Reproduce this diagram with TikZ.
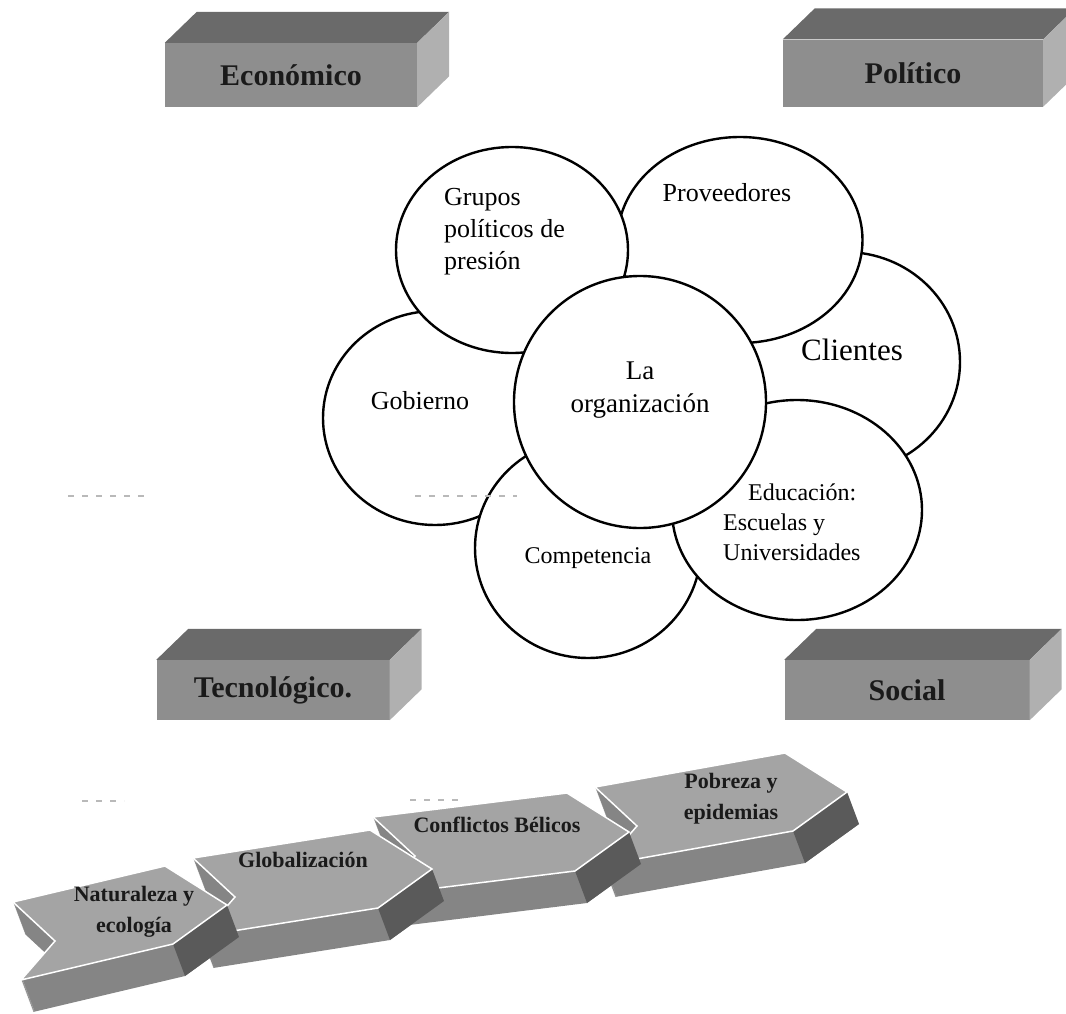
\documentclass[tikz,border=0pt]{standalone}
\usepackage{fontspec}
\setmainfont{Liberation Serif}
\usetikzlibrary{shapes.geometric,calc}
\definecolor{slabfront}{HTML}{8E8E8E}
\definecolor{slabtop}{HTML}{6A6A6A}
\definecolor{slabside}{HTML}{B0B0B0}
\definecolor{chevtop}{HTML}{A4A4A4}
\definecolor{chevband}{HTML}{858585}
\definecolor{chevdark}{HTML}{5A5A5A}
\definecolor{inkk}{HTML}{1A1A1A}
\tikzset{
  slab/.style={fill=slabfront, text=inkk, inner sep=0pt,
               font=\fontsize{30}{34}\selectfont\bfseries},
  slabtopf/.style={fill=slabtop},
  slabsidef/.style={fill=slabside},
  bubble/.style={ellipse, draw=black, line width=2.4pt, fill=white, inner sep=0pt},
  blbl/.style={text=black, inner sep=0pt, align=center},
  clbl/.style={text=inkk, inner sep=0pt, align=center,
               font=\fontsize{22}{31}\selectfont\bfseries},
  chevpath/.style={insert path={(0,0) -- (1,0) -- ([xshift=58pt]1,0.5) -- (1,1)
                   -- (0,1) -- ([xshift=38pt]0,0.5) -- cycle}},
  ghost/.style={gray!55, line width=1.2pt, dash pattern=on 6pt off 8pt}
}
\begin{document}
\begin{tikzpicture}[x=1pt, y=-1pt]
  \useasboundingbox (0,0) rectangle (1066,1013);

  % chevrons, back to front
  \foreach \ox/\oy/\ux/\uy in {595/787/190/34, 373/817/194/24, 193/858/177/28, 13/902/152/36}{
    \begin{scope}[shift={(\ox,\oy)}, x={(\ux pt,\uy pt)}, y={(8pt,-78pt)}]
      \foreach \k in {1,...,32}
        \fill[chevband, xshift=\k*0.375pt, yshift=-\k*1pt, chevpath];
      \fill[chevdark] ([xshift=58pt]1,0.5) -- (1,1) -- ([xshift=12pt,yshift=-32pt]1,1)
        -- ([xshift=70pt,yshift=-32pt]1,0.5) -- cycle;
      \fill[chevtop, draw=white, line width=1.5pt, chevpath];
    \end{scope}
  }
  \node[clbl] (natu) at (134,912) {Naturaleza y\\ecología};
  \node[clbl] (glob) at (303,860) {Globalización};
  \node[clbl] (conf) at (497,825) {Conflictos Bélicos};
  \node[clbl] (pobr) at (731,799) {Pobreza y\\epidemias};

  % environment slabs
  \node[slab, minimum width=252pt, minimum height=64pt] (econ) at (291,75) {Económico};
  \node[slab, minimum width=260pt, minimum height=67pt] (poli) at (913,73) {Político};
  \node[slab, minimum width=233pt, minimum height=60pt] (tecn) at (273,690) {Tecnológico.};
  \node[slab, minimum width=245pt, minimum height=60pt] (soci) at (907,690) {Social};
  \foreach \b in {econ,poli,tecn,soci}{
    \fill[slabtopf] (\b.north west) -- ++(32,-31) -- ($(\b.north east)+(32,-31)$)
      -- (\b.north east) -- cycle;
    \fill[slabsidef] (\b.north east) -- ($(\b.north east)+(32,-31)$)
      -- ($(\b.south east)+(32,-31)$) -- (\b.south east) -- cycle;
  }

  % stakeholders
  \node[bubble, minimum width=230pt, minimum height=220pt] (clie) at (845,362) {};
  \node[bubble, minimum width=245pt, minimum height=206pt] (prov) at (740,240) {};
  \node[bubble, minimum width=224pt, minimum height=214pt] (gobi) at (435,418) {};
  \node[bubble, minimum width=232pt, minimum height=206pt] (grup) at (512,250) {};
  \node[bubble, minimum width=226pt, minimum height=220pt] (comp) at (588,548) {};
  \node[bubble, minimum width=250pt, minimum height=220pt] (educ) at (797,510) {};
  \node[bubble, minimum width=252pt, minimum height=252pt] (orga) at (640,402) {};

  \node[blbl, align=left, anchor=west, font=\fontsize{26}{32}\selectfont] (tgru) at (444,232)
    {Grupos\\políticos de\\presión};
  \node[blbl, font=\fontsize{26}{32}\selectfont] (tpro) at (727,193) {Proveedores};
  \node[blbl, font=\fontsize{31}{36}\selectfont] (tcli) at (852,350) {Clientes};
  \node[blbl, font=\fontsize{27}{33}\selectfont] (torg) at (640,390) {La\\organización};
  \node[blbl, font=\fontsize{26}{32}\selectfont] (tgob) at (420,401) {Gobierno};
  \node[blbl, font=\fontsize{24}{30}\selectfont] (tcom) at (588,558) {Competencia};
  \node[blbl, align=left, anchor=west, font=\fontsize{24}{30}\selectfont] (tedu) at (723,522)
    {\hspace*{25pt}Educación:\\Escuelas y\\Universidades};

  % faint scan marks
  \draw[ghost] (68,496) -- (150,496);
  \draw[ghost] (415,496) -- (517,496);
  \draw[ghost] (82,801) -- (124,801);
  \draw[ghost] (410,800) -- (462,800);
\end{tikzpicture}
\end{document}
